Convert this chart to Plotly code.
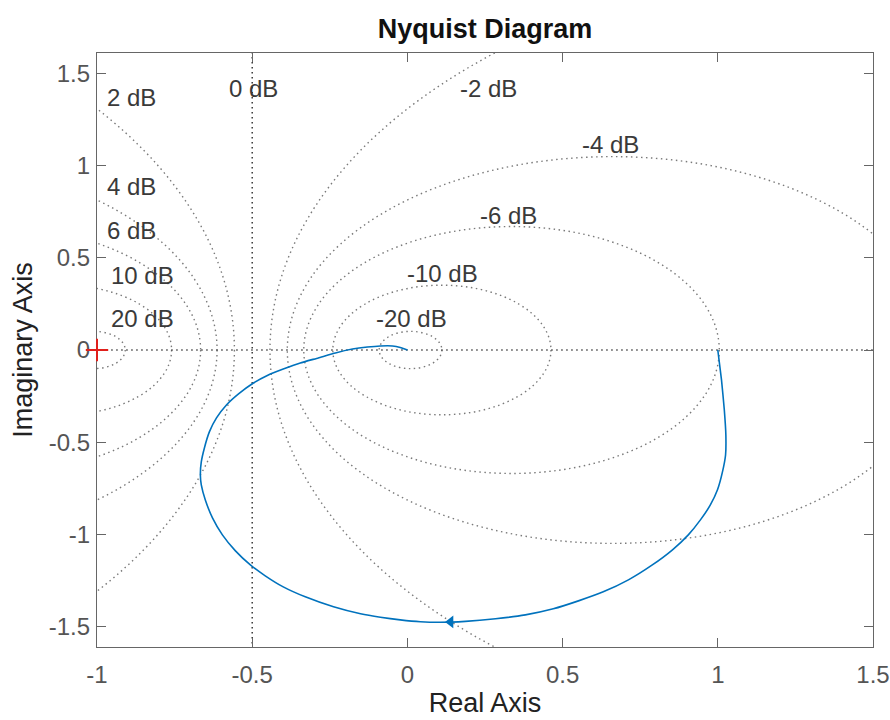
import numpy as np
import plotly.graph_objects as go

# ---------------- data ----------------
# Nyquist curve, from w=0 at (1,0) to w->inf at origin
curve_re = [1.000, 1.012, 1.021, 1.026, 1.025, 1.015, 0.999, 0.976, 0.944, 0.905,
            0.854, 0.789, 0.712, 0.631, 0.551, 0.470, 0.380, 0.284, 0.187, 0.106,
            0.042, -0.023, -0.087, -0.151, -0.238, -0.329, -0.400, -0.458, -0.506,
            -0.554, -0.596, -0.628, -0.651, -0.664, -0.667, -0.664, -0.654, -0.638,
            -0.615, -0.583, -0.544, -0.496, -0.448, -0.400, -0.345, -0.287, -0.232,
            -0.177, -0.129, -0.087, -0.048, -0.023, 0.000]
curve_im = [0.000, -0.163, -0.325, -0.461, -0.569, -0.661, -0.758, -0.840, -0.921, -1.002,
            -1.083, -1.165, -1.246, -1.311, -1.360, -1.403, -1.436, -1.457, -1.471, -1.476,
            -1.473, -1.463, -1.449, -1.430, -1.392, -1.338, -1.284, -1.224, -1.165,
            -1.089, -1.002, -0.910, -0.813, -0.731, -0.677, -0.607, -0.531, -0.444,
            -0.368, -0.298, -0.238, -0.179, -0.135, -0.103, -0.070, -0.043, -0.016,
            0.005, 0.016, 0.022, 0.022, 0.014, 0.000]

arrow_re = [0.139]
arrow_im = [-1.474]

critical_re = [-1.0]
critical_im = [0.0]

# M-circle levels (dB), 0 dB is the vertical line Re = -0.5
circle_db = [-20, -10, -6, -4, -2, 2, 4, 6, 10, 20]

label_text = ["0 dB", "2 dB", "4 dB", "6 dB", "10 dB", "20 dB",
              "-2 dB", "-4 dB", "-6 dB", "-10 dB", "-20 dB"]
label_x = [-0.496, -0.889, -0.889, -0.889, -0.854, -0.854,
           0.261, 0.654, 0.325, 0.113, 0.013]
label_y = [1.419, 1.371, 0.888, 0.650, 0.406, 0.173,
           1.419, 1.116, 0.731, 0.417, 0.173]

x_ticks = [-1, -0.5, 0, 0.5, 1, 1.5]
x_ticktext = ["-1", "-0.5", "0", "0.5", "1", "1.5"]
y_ticks = [-1.5, -1, -0.5, 0, 0.5, 1, 1.5]
y_ticktext = ["-1.5", "-1", "-0.5", "0", "0.5", "1", "1.5"]

# ---------------- figure ----------------
FONT = "Liberation Sans, Arial, Helvetica, sans-serif"
GRID_C = "#7a7a7a"
DASH = "1.5px,3.5px"
fig = go.Figure()

shapes = []
for db in circle_db:
    M = 10 ** (db / 20.0)
    c = -M * M / (M * M - 1)
    r = abs(M / (M * M - 1))
    shapes.append(dict(type="circle", xref="x", yref="y",
                       x0=c - r, x1=c + r, y0=-r, y1=r,
                       line=dict(color=GRID_C, width=1.4, dash=DASH),
                       layer="below"))
# 0 dB line and real axis
shapes.append(dict(type="line", xref="x", yref="y", x0=-0.5, x1=-0.5, y0=-3, y1=3,
                   line=dict(color="#2a2a2a", width=1.4, dash=DASH), layer="below"))
shapes.append(dict(type="line", xref="x", yref="y", x0=-3, x1=3, y0=0, y1=0,
                   line=dict(color="#4a4a4a", width=1.4, dash=DASH), layer="below"))

fig.add_trace(go.Scatter(x=curve_re, y=curve_im, mode="lines",
                         line=dict(color="#0072BD", width=1.6, shape="spline", smoothing=0.4),
                         hoverinfo="skip", showlegend=False))
fig.add_trace(go.Scatter(x=arrow_re, y=arrow_im, mode="markers",
                         marker=dict(symbol="triangle-left", size=11, color="#0072BD"),
                         showlegend=False, hoverinfo="skip"))
fig.add_trace(go.Scatter(x=critical_re, y=critical_im, mode="markers", cliponaxis=False,
                         marker=dict(symbol="cross-thin", size=16,
                                     line=dict(color="#e0201b", width=2)),
                         showlegend=False, hoverinfo="skip"))

annotations = []
for t, x, y in zip(label_text, label_x, label_y):
    annotations.append(dict(x=x, y=y, xref="x", yref="y", text=t, showarrow=False,
                            xanchor="center", yanchor="middle",
                            font=dict(family=FONT, size=24, color="#3a3a3a")))

fig.update_layout(
    width=890, height=720,
    margin=dict(l=97, r=17, t=53, b=73, autoexpand=False),
    paper_bgcolor="white", plot_bgcolor="white",
    shapes=shapes, annotations=annotations,
    title=dict(text="<b>Nyquist Diagram</b>", x=0.545, xanchor="center",
               y=1 - 29 / 720, yanchor="middle",
               font=dict(family=FONT, size=27, color="#111111")),
    showlegend=False,
)
axis_common = dict(showline=True, linecolor="#666666", linewidth=1.2, mirror="ticks",
                   ticks="inside", ticklen=9, tickwidth=1.2, tickcolor="#666666",
                   showgrid=False, zeroline=False, automargin=False, layer="below traces",
                   tickfont=dict(family=FONT, size=24, color="#555555"))
fig.update_xaxes(range=[-1, 1.5], tickvals=x_ticks, ticktext=x_ticktext,
                 ticklabelstandoff=6,
                 title=dict(text="Real Axis", standoff=6,
                            font=dict(family=FONT, size=27, color="#222222")),
                 **axis_common)
fig.update_yaxes(range=[-1.61, 1.61], tickvals=y_ticks, ticktext=y_ticktext,
                 ticklabelstandoff=1,
                 title=dict(text="Imaginary Axis", standoff=8,
                            font=dict(family=FONT, size=27, color="#222222")),
                 **axis_common)

fig.write_html("out.html")
